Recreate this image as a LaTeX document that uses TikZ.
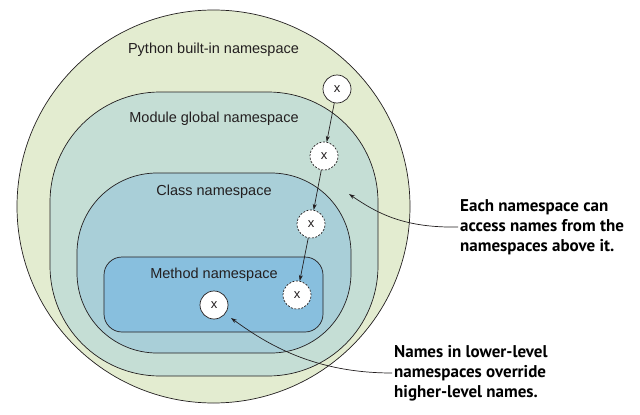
\documentclass[tikz,border=0pt]{standalone}
\usepackage{fontspec}
\setmainfont{Liberation Sans}
\newfontfamily\calloutfont{PT Sans}
\usetikzlibrary{arrows.meta}
\definecolor{pyfill}{HTML}{E3ECD0}
\definecolor{modfill}{HTML}{C5DED5}
\definecolor{clsfill}{HTML}{A9CFD8}
\definecolor{metfill}{HTML}{88BFDE}
\definecolor{labtext}{HTML}{231F20}
\definecolor{edge}{HTML}{231F20}
\tikzset{
  region/.style={draw=edge, line width=0.7pt},
  nslabel/.style={font=\fontsize{14.5}{16}\selectfont, text=labtext, inner sep=0pt},
  xnode/.style={circle, draw=edge, fill=white, line width=0.7pt, minimum size=28pt, inner sep=0pt, font=\fontsize{13}{13}\selectfont, text=labtext},
  xdashed/.style={xnode, dash pattern=on 2pt off 1.5pt},
  flow/.style={draw=edge, line width=0.7pt, -{Stealth[length=6pt,width=4pt]}},
  callout/.style={font=\calloutfont\bfseries\fontsize{17}{20}\selectfont, align=left, anchor=west, inner sep=2pt, text=black},
}
\begin{document}
\begin{tikzpicture}[x=1pt,y=-1pt]
\useasboundingbox (0,0) rectangle (640,415);
% regions
\draw[region, fill=pyfill] (213.5,206.5) circle (196.5);
\draw[region, fill=modfill, rounded corners=110pt] (50,92) rectangle (378,376);
\draw[region, fill=clsfill, rounded corners=80pt] (77,173) rectangle (351,353);
\draw[region, fill=metfill, rounded corners=18pt] (104,257) rectangle (323,332);
% labels
\node[nslabel] (lpy) at (213.5,50) {Python built-in namespace};
\node[nslabel] (lmod) at (214,119) {Module global namespace};
\node[nslabel] (lcls) at (214,192) {Class namespace};
\node[nslabel] (lmet) at (214,275) {Method namespace};
% x nodes
\node[xnode] (x1) at (337,89) {x};
\node[xdashed] (x2) at (324,156) {x};
\node[xdashed] (x3) at (311,224) {x};
\node[xdashed] (x4) at (297,295) {x};
\node[xnode] (x5) at (214,305) {x};
\draw[flow] (x1) -- (x2);
\draw[flow] (x2) -- (x3);
\draw[flow] (x3) -- (x4);
% callouts
\node[callout] (c1) at (458,227) {Each namespace can\\access names from the\\namespaces above it.};
\node[callout] (c2) at (392,373) {Names in lower-level\\namespaces override\\higher-level names.};
\coordinate (t1) at (349,194);
\coordinate (t2) at (231,318);
\draw[flow] (c1.west) .. controls (405,228) and (378,214) .. (t1);
\draw[flow] (c2.west) .. controls (315,373) and (268,345) .. (t2);
\end{tikzpicture}
\end{document}
